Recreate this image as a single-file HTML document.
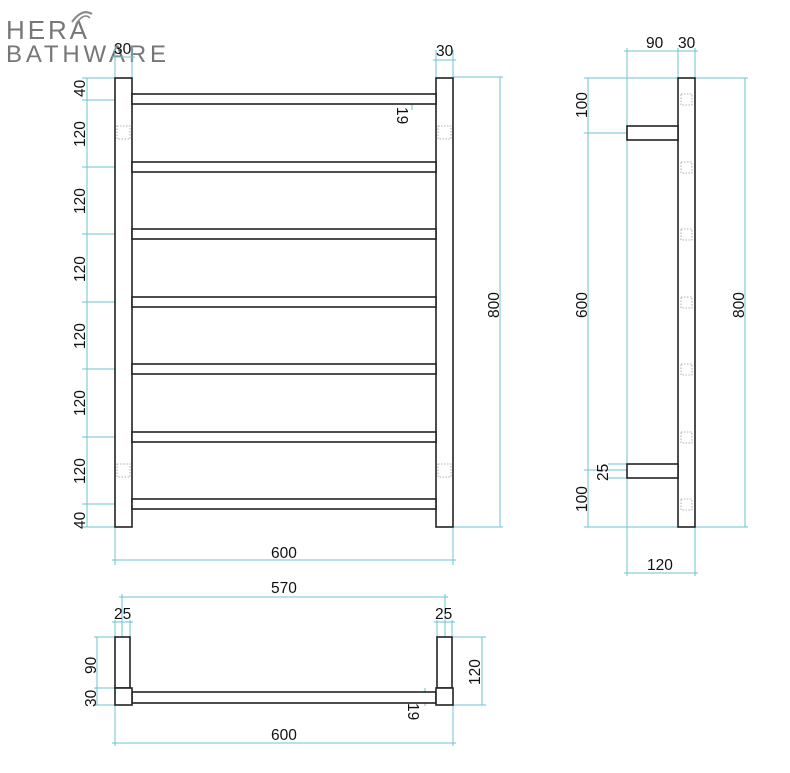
<!DOCTYPE html>
<html><head><meta charset="utf-8"><style>
html,body{margin:0;padding:0;background:#fff;}
svg{display:block;}
text{font-family:"Liberation Sans",sans-serif;font-size:15.5px;fill:#111;}
.d{stroke:#6cc3cc;stroke-width:1;fill:none;}
.o{stroke:#222;stroke-width:1.6;fill:#fff;}
.h{stroke:#999;stroke-width:0.8;fill:none;stroke-dasharray:1.5 1.5;}
</style></head><body>
<svg width="790" height="773" viewBox="0 0 790 773" xmlns="http://www.w3.org/2000/svg">
<text x="6" y="39" style="font-size:26px;fill:#777;letter-spacing:1px" textLength="82">HERA</text>
<text x="6" y="62" style="font-size:24px;fill:#777" textLength="160">BATHWARE</text>
<path d="M72 22 Q82 8 92 14" stroke="#888" stroke-width="2" fill="none"/>
<path d="M76 24 Q84 12 90 18" stroke="#888" stroke-width="1.5" fill="none"/>

<g class="d">
 <line x1="87" y1="78" x2="87" y2="527"/>
 <line x1="82" y1="78" x2="115" y2="78"/><line x1="82" y1="100" x2="132" y2="100"/>
 <line x1="82" y1="167" x2="132" y2="167"/><line x1="82" y1="234" x2="132" y2="234"/>
 <line x1="82" y1="302" x2="132" y2="302"/><line x1="82" y1="369" x2="132" y2="369"/>
 <line x1="82" y1="437" x2="132" y2="437"/><line x1="82" y1="504" x2="132" y2="504"/>
 <line x1="82" y1="527" x2="115" y2="527"/>
 <line x1="115" y1="45" x2="115" y2="565"/><line x1="132" y1="45" x2="132" y2="78"/>
 <line x1="112" y1="57" x2="135" y2="57"/>
 <line x1="436" y1="50" x2="436" y2="78"/><line x1="453" y1="50" x2="453" y2="565"/>
 <line x1="433" y1="60" x2="456" y2="60"/>
 <line x1="453" y1="77" x2="503" y2="77"/><line x1="453" y1="527" x2="503" y2="527"/>
 <line x1="500" y1="77" x2="500" y2="527"/>
 <line x1="112" y1="560" x2="456" y2="560"/>
 <line x1="412" y1="94" x2="436" y2="94"/><line x1="412" y1="104" x2="436" y2="104"/>
 <line x1="412" y1="94" x2="412" y2="110"/>
</g>
<rect class="o" x="115" y="78" width="17" height="449"/>
<rect class="o" x="436" y="78" width="17" height="449"/>
<g class="o">
 <rect x="132" y="94" width="304" height="10"/>
 <rect x="132" y="162" width="304" height="10"/>
 <rect x="132" y="229" width="304" height="10"/>
 <rect x="132" y="297" width="304" height="10"/>
 <rect x="132" y="364" width="304" height="10"/>
 <rect x="132" y="432" width="304" height="10"/>
 <rect x="132" y="499" width="304" height="10"/>
</g>
<g class="h">
 <rect x="117" y="126" width="13" height="13"/><rect x="438" y="126" width="13" height="13"/>
 <rect x="117" y="464" width="13" height="13"/><rect x="438" y="464" width="13" height="13"/>
</g>
<text x="114" y="54">30</text><text x="436" y="56">30</text>
<text transform="translate(85,97) rotate(-90)">40</text>
<text transform="translate(85,147) rotate(-90)">120</text>
<text transform="translate(85,214) rotate(-90)">120</text>
<text transform="translate(85,282) rotate(-90)">120</text>
<text transform="translate(85,349) rotate(-90)">120</text>
<text transform="translate(85,416) rotate(-90)">120</text>
<text transform="translate(85,484) rotate(-90)">120</text>
<text transform="translate(85,529) rotate(-90)">40</text>
<text transform="translate(499,318) rotate(-90)">800</text>
<text transform="translate(397,107) rotate(90)">19</text>
<text x="271" y="558">600</text>

<g class="d">
 <line x1="588" y1="78" x2="588" y2="527"/>
 <line x1="584" y1="78" x2="748" y2="78"/>
 <line x1="584" y1="133" x2="627" y2="133"/>
 <line x1="584" y1="470" x2="627" y2="470"/>
 <line x1="584" y1="527" x2="748" y2="527"/>
 <line x1="745" y1="78" x2="745" y2="527"/>
 <line x1="627" y1="48" x2="627" y2="576"/>
 <line x1="678" y1="48" x2="678" y2="78"/><line x1="695" y1="48" x2="695" y2="576"/>
 <line x1="624" y1="51" x2="698" y2="51"/>
 <line x1="624" y1="573" x2="698" y2="573"/>
 <line x1="608" y1="464" x2="627" y2="464"/><line x1="608" y1="478" x2="627" y2="478"/>
</g>
<rect class="o" x="678" y="78" width="17" height="449"/>
<rect class="o" x="627" y="126" width="51" height="14"/>
<rect class="o" x="627" y="464" width="51" height="14"/>
<g class="h">
 <rect x="681" y="94" width="11" height="11"/><rect x="681" y="162" width="11" height="11"/>
 <rect x="681" y="229" width="11" height="11"/><rect x="681" y="297" width="11" height="11"/>
 <rect x="681" y="364" width="11" height="11"/><rect x="681" y="432" width="11" height="11"/>
 <rect x="681" y="499" width="11" height="11"/>
</g>
<text x="646" y="48">90</text><text x="678" y="48">30</text>
<text transform="translate(587,118) rotate(-90)">100</text>
<text transform="translate(587,318) rotate(-90)">600</text>
<text transform="translate(587,512) rotate(-90)">100</text>
<text transform="translate(608,481) rotate(-90)">25</text>
<text transform="translate(744,318) rotate(-90)">800</text>
<text x="647" y="570">120</text>

<g class="d">
 <line x1="119" y1="597" x2="448" y2="597"/>
 <line x1="122" y1="594" x2="122" y2="637"/><line x1="445" y1="594" x2="445" y2="637"/>
 <line x1="115" y1="620" x2="115" y2="637"/><line x1="130" y1="620" x2="130" y2="637"/>
 <line x1="112" y1="622" x2="133" y2="622"/>
 <line x1="437" y1="620" x2="437" y2="637"/><line x1="452" y1="620" x2="452" y2="637"/>
 <line x1="434" y1="622" x2="455" y2="622"/>
 <line x1="97" y1="637" x2="97" y2="705"/>
 <line x1="94" y1="637" x2="115" y2="637"/><line x1="94" y1="688" x2="115" y2="688"/>
 <line x1="94" y1="705" x2="115" y2="705"/>
 <line x1="452" y1="637" x2="486" y2="637"/><line x1="453" y1="705" x2="486" y2="705"/>
 <line x1="482" y1="637" x2="482" y2="705"/>
 <line x1="115" y1="705" x2="115" y2="746"/><line x1="453" y1="705" x2="453" y2="746"/>
 <line x1="112" y1="743" x2="456" y2="743"/>
 <line x1="425" y1="692" x2="436" y2="692"/><line x1="425" y1="703" x2="436" y2="703"/>
 <line x1="425" y1="688" x2="425" y2="706"/>
</g>
<rect class="o" x="115" y="637" width="15" height="51"/>
<rect class="o" x="437" y="637" width="15" height="51"/>
<rect class="o" x="132" y="692" width="304" height="11"/>
<rect class="o" x="115" y="688" width="17" height="17"/>
<rect class="o" x="436" y="688" width="17" height="17"/>
<text x="271" y="593">570</text>
<text x="114" y="619">25</text><text x="435" y="619">25</text>
<text transform="translate(96,674) rotate(-90)">90</text>
<text transform="translate(96,707) rotate(-90)">30</text>
<text transform="translate(480,685) rotate(-90)">120</text>
<text transform="translate(408,703) rotate(90)">19</text>
<text x="271" y="740">600</text>
</svg>
</body></html>
